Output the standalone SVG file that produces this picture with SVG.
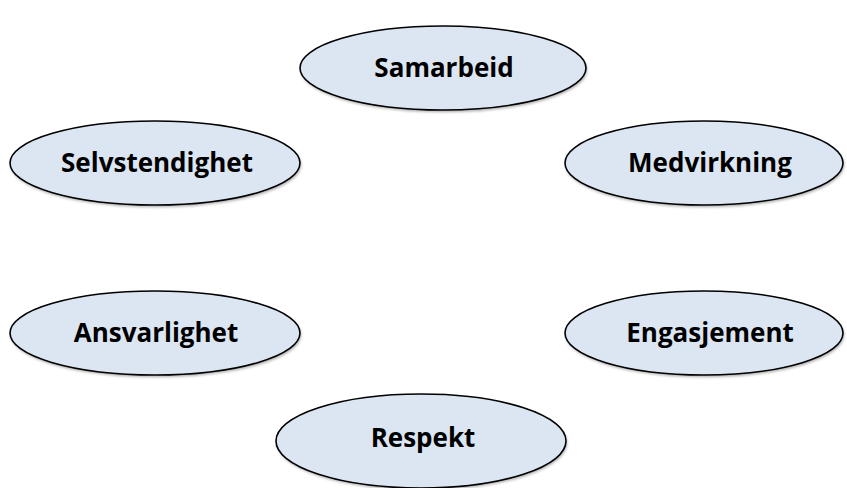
<svg xmlns="http://www.w3.org/2000/svg" width="847" height="488" viewBox="0 0 847 488">
<style>
.node ellipse.shape { fill: #DCE6F2; stroke: #000; stroke-width: 1.6; }
.node ellipse.shadow { fill: #000; opacity: 0.35; filter: url(#blur); }
.node text { font-family: "Open Sans", "Noto Sans", "Liberation Sans", sans-serif; font-weight: 700; font-size: 26px; fill: #000; text-anchor: middle; }
</style>
<defs>
<filter id="blur" x="-10%" y="-20%" width="120%" height="140%"><feGaussianBlur stdDeviation="1.5"/></filter>
</defs>
<rect width="847" height="488" fill="#fff"/>
<g id="connectors"></g>
<g id="node-samarbeid" class="node">
<ellipse class="shadow" cx="444" cy="70" rx="143" ry="42"/>
<ellipse class="shape" cx="443" cy="68" rx="143" ry="42"/>
<text x="444" y="77">Samarbeid</text>
</g>
<g id="node-selvstendighet" class="node">
<ellipse class="shadow" cx="156" cy="165" rx="145" ry="42"/>
<ellipse class="shape" cx="155" cy="163" rx="145" ry="42"/>
<text x="157" y="172">Selvstendighet</text>
</g>
<g id="node-medvirkning" class="node">
<ellipse class="shadow" cx="705" cy="165" rx="139" ry="42"/>
<ellipse class="shape" cx="704" cy="163" rx="139" ry="42"/>
<text x="710" y="172">Medvirkning</text>
</g>
<g id="node-ansvarlighet" class="node">
<ellipse class="shadow" cx="156" cy="335" rx="145" ry="42"/>
<ellipse class="shape" cx="155" cy="333" rx="145" ry="42"/>
<text x="156" y="342">Ansvarlighet</text>
</g>
<g id="node-engasjement" class="node">
<ellipse class="shadow" cx="705" cy="335" rx="139" ry="42"/>
<ellipse class="shape" cx="704" cy="333" rx="139" ry="42"/>
<text x="710" y="342">Engasjement</text>
</g>
<g id="node-respekt" class="node">
<ellipse class="shadow" cx="422" cy="443" rx="145" ry="47"/>
<ellipse class="shape" cx="421" cy="441" rx="145" ry="47"/>
<text x="423" y="447">Respekt</text>
</g>
</svg>
